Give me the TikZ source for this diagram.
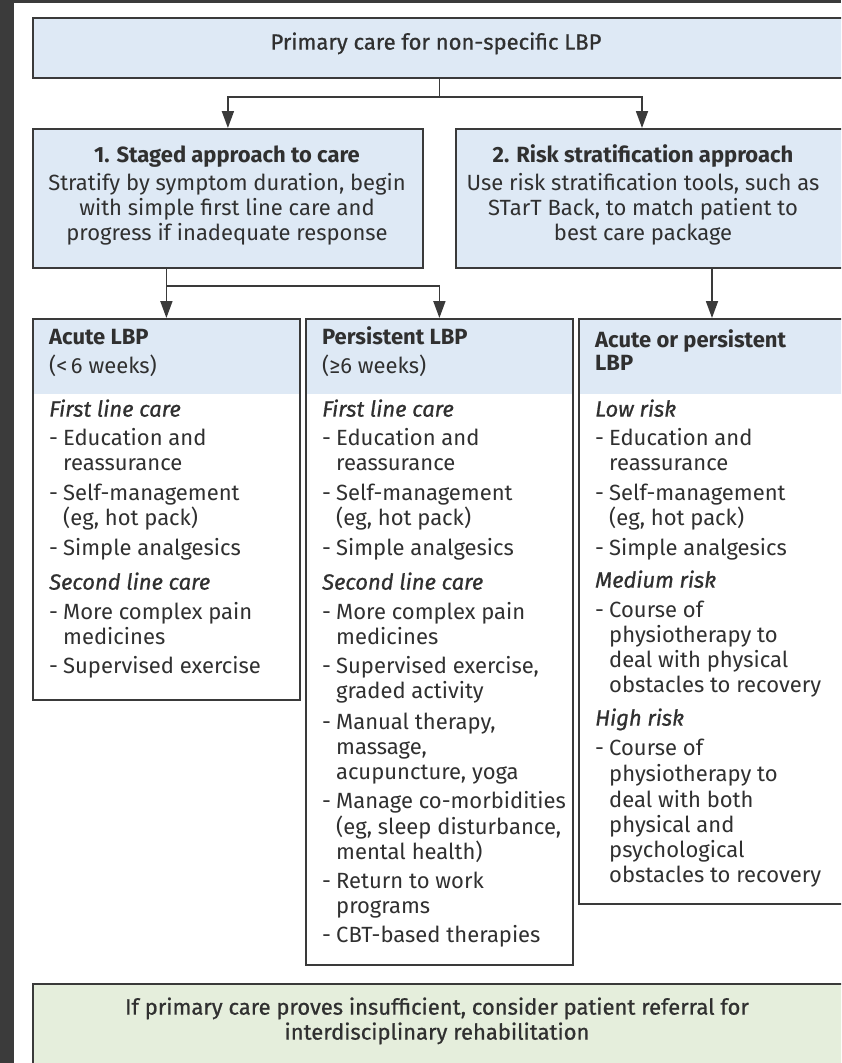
\documentclass[tikz,border=0pt]{standalone}
\usepackage{fontspec}
\setmainfont{Fira Sans}
\newfontfamily\medium[FakeBold=0.8]{Fira Sans}
\usetikzlibrary{arrows.meta}
\definecolor{bluef}{HTML}{DEE9F5}
\definecolor{greenf}{HTML}{E5EEDC}
\definecolor{linec}{HTML}{3A3A3A}
\definecolor{textc}{HTML}{303030}
\definecolor{stripc}{HTML}{3B3B3B}
\begin{document}
\begin{tikzpicture}[x=1pt,y=-1pt,
  box/.style={draw=linec, line width=1.8pt, inner sep=0, anchor=north west},
  band/.style={fill=#1, inner sep=0, anchor=north west},
  conn/.style={draw=linec, line width=1.8pt},
  arr/.style={conn, -{Triangle[width=12pt,length=17pt]}},
  txt/.style={anchor=mid west, inner sep=0, text=textc, font=\fontsize{22}{25}\selectfont},
  hd/.style={txt, font=\fontsize{22}{25}\selectfont\bfseries},
  ih/.style={txt, font=\fontsize{22}{25}\selectfont\medium\itshape},
  ctr/.style={txt, anchor=mid},
  ctrm/.style={txt, anchor=mid, font=\fontsize{22}{25}\selectfont\medium},
  ctrb/.style={hd, anchor=mid},
]
\useasboundingbox (0,0) rectangle (841,1063);
\clip (0,0) rectangle (841,1063);
\fill[white] (0,0) rectangle (841,1063);
\fill[stripc] (0,0) rectangle (14,1063);
\fill[stripc] (0,0) rectangle (841,2.5);

% header bands
\node[band=bluef, minimum width=813pt, minimum height=60pt] (topf) at (32,17) {};
\node[band=bluef, minimum width=390pt, minimum height=139pt] (b1f) at (32,128) {};
\node[band=bluef, minimum width=390pt, minimum height=139pt] (b2f) at (455,128) {};
\node[band=bluef, minimum width=267pt, minimum height=76pt] (af) at (32,318) {};
\node[band=bluef, minimum width=267pt, minimum height=76pt] (pf) at (305,318) {};
\node[band=bluef, minimum width=267pt, minimum height=76pt] (rf) at (578,318) {};
\node[band=greenf, minimum width=813pt, minimum height=92pt] (gf) at (32,983) {};

% boxes
\node[box, minimum width=813pt, minimum height=60pt] (top) at (32,17) {};
\node[box, minimum width=390pt, minimum height=139pt] (box1) at (32,128) {};
\node[box, minimum width=390pt, minimum height=139pt] (box2) at (455,128) {};
\node[box, minimum width=267pt, minimum height=381pt] (acute) at (32,318) {};
\node[box, minimum width=267pt, minimum height=646pt] (persist) at (305,318) {};
\node[box, minimum width=267pt, minimum height=585pt] (risk) at (578,318) {};
\node[box, minimum width=813pt, minimum height=92pt] (green) at (32,983) {};

% connectors
\coordinate (j1) at (438,97);
\coordinate (k2) at (642,0);
\coordinate (j2) at (166,286);
\coordinate (k3) at (712,0);
\draw[conn] (top.south) -- (top.south |- j1);
\draw[arr] (top.south |- j1) -| (box1.north);
\draw[arr] (top.south |- j1) -| (k2 |- box2.north);
\draw[conn] (box1.south -| acute.north) -- (acute.north |- j2);
\draw[arr] (acute.north |- j2) -- (acute.north);
\draw[arr] (acute.north |- j2) -| (persist.north);
\draw[arr] (k3 |- box2.south) -- (k3 |- risk.north);

% top texts
\node[ctrm] (t0) at (436,47) {Primary care for non-specific LBP};
\node[ctrb] (t1a) at (227,160) {1. Staged approach to care};
\node[ctr] (t1b) at (227,188) {Stratify by symptom duration, begin};
\node[ctr] (t1c) at (227,213) {with simple first line care and};
\node[ctr] (t1d) at (227,238) {progress if inadequate response};
\node[ctrb] (t2a) at (643,160) {2. Risk stratification approach};
\node[ctr] (t2b) at (643,188) {Use risk stratification tools, such as};
\node[ctr] (t2c) at (643,213) {STarT Back, to match patient to};
\node[ctr] (t2d) at (643,238) {best care package};

% acute column
\node[hd] (a1) at (49,342) {Acute LBP};
\node[txt] (a2) at (49,371) {(<\,6 weeks)};
\node[ih] (a3) at (49,414) {First line care};
\node[txt] (a4) at (49,443) {\makebox[14pt][l]{-}Education and};
\node[txt] (a5) at (63,468) {reassurance};
\node[txt] (a6) at (49,498) {\makebox[14pt][l]{-}Self-management};
\node[txt] (a7) at (63,523) {(eg, hot pack)};
\node[txt] (a8) at (49,553) {\makebox[14pt][l]{-}Simple analgesics};
\node[ih] (a9) at (49,587) {Second line care};
\node[txt] (a10) at (49,617) {\makebox[14pt][l]{-}More complex pain};
\node[txt] (a11) at (63,642) {medicines};
\node[txt] (a12) at (49,671) {\makebox[14pt][l]{-}Supervised exercise};

% persistent column
\node[hd] (p1) at (322,342) {Persistent LBP};
\node[txt] (p2) at (322,371) {(≥6 weeks)};
\node[ih] (p3) at (322,414) {First line care};
\node[txt] (p4) at (322,443) {\makebox[14pt][l]{-}Education and};
\node[txt] (p5) at (336,468) {reassurance};
\node[txt] (p6) at (322,498) {\makebox[14pt][l]{-}Self-management};
\node[txt] (p7) at (336,523) {(eg, hot pack)};
\node[txt] (p8) at (322,553) {\makebox[14pt][l]{-}Simple analgesics};
\node[ih] (p9) at (322,587) {Second line care};
\node[txt] (p10) at (322,617) {\makebox[14pt][l]{-}More complex pain};
\node[txt] (p11) at (336,642) {medicines};
\node[txt] (p12) at (322,671) {\makebox[14pt][l]{-}Supervised exercise,};
\node[txt] (p13) at (336,696) {graded activity};
\node[txt] (p14) at (322,727) {\makebox[14pt][l]{-}Manual therapy,};
\node[txt] (p15) at (336,752) {massage,};
\node[txt] (p16) at (336,777) {acupuncture, yoga};
\node[txt] (p17) at (322,806) {\makebox[14pt][l]{-}Manage co-morbidities};
\node[txt] (p18) at (336,832) {(eg, sleep disturbance,};
\node[txt] (p19) at (336,857) {mental health)};
\node[txt] (p20) at (322,886) {\makebox[14pt][l]{-}Return to work};
\node[txt] (p21) at (336,911) {programs};
\node[txt] (p22) at (322,940) {\makebox[14pt][l]{-}CBT-based therapies};

% risk column
\node[hd] (r1) at (595,345) {Acute or persistent};
\node[hd] (r2) at (595,368) {LBP};
\node[ih] (r3) at (595,414) {Low risk};
\node[txt] (r4) at (595,443) {\makebox[14pt][l]{-}Education and};
\node[txt] (r5) at (609,468) {reassurance};
\node[txt] (r6) at (595,498) {\makebox[14pt][l]{-}Self-management};
\node[txt] (r7) at (609,523) {(eg, hot pack)};
\node[txt] (r8) at (595,553) {\makebox[14pt][l]{-}Simple analgesics};
\node[ih] (r9) at (595,585) {Medium risk};
\node[txt] (r10) at (595,615) {\makebox[14pt][l]{-}Course of};
\node[txt] (r11) at (609,640) {physiotherapy to};
\node[txt] (r12) at (609,665) {deal with physical};
\node[txt] (r13) at (609,690) {obstacles to recovery};
\node[ih] (r14) at (595,723) {High risk};
\node[txt] (r15) at (595,753) {\makebox[14pt][l]{-}Course of};
\node[txt] (r16) at (609,779) {physiotherapy to};
\node[txt] (r17) at (609,805) {deal with both};
\node[txt] (r18) at (609,830) {physical and};
\node[txt] (r19) at (609,855) {psychological};
\node[txt] (r20) at (609,880) {obstacles to recovery};

% bottom
\node[ctrm] (g1) at (437,1012) {If primary care proves insufficient, consider patient referral for};
\node[ctrm] (g2) at (437,1037) {interdisciplinary rehabilitation};
\end{tikzpicture}
\end{document}
